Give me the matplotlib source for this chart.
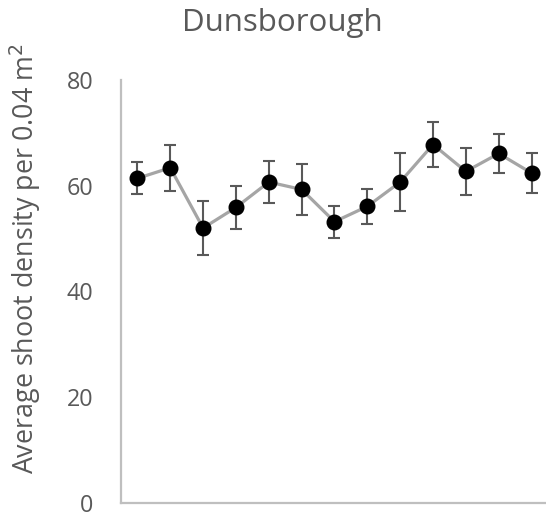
import matplotlib
matplotlib.use("Agg")
import matplotlib.pyplot as plt
import numpy as np

# Survey periods (unlabelled on the axis) and mean shoot density with standard error
periods = list(range(1, 14))
density = [61.4, 63.4, 52.0, 55.9, 60.7, 59.3, 53.2, 56.1, 60.7, 67.8, 62.7, 66.1, 62.4]
std_err = [3.0, 4.3, 5.1, 4.0, 4.0, 4.8, 3.0, 3.3, 5.5, 4.2, 4.5, 3.6, 3.8]
y_ticks = [0, 20, 40, 60, 80]

text_color = "#595959"
plt.rcParams["font.family"] = ["Open Sans", "DejaVu Sans"]

W, H, DPI = 546, 517, 100
fig = plt.figure(figsize=(W / DPI, H / DPI), dpi=DPI)

left, right = 121 / W, 546 / W
bottom, top = (H - 503) / H, (H - 80) / H
ax = fig.add_axes([left, bottom, right - left, top - bottom])

x = np.arange(len(periods))
ax.errorbar(x, density, yerr=std_err, fmt="none", ecolor="#595959",
            elinewidth=1.5, capsize=4.5, capthick=1.5, zorder=2)
ax.plot(x, density, color="#A5A5A5", linewidth=2.3, zorder=3)
ax.plot(x, density, linestyle="none", marker="o", markersize=10.5,
        markerfacecolor="black", markeredgecolor="black", zorder=4)

ax.set_xlim(-0.5, 12.44)
ax.set_ylim(0, 80)
ax.set_yticks(y_ticks)
ax.set_xticks([])
ax.tick_params(axis="y", length=0, pad=20, labelsize=16.8, labelcolor=text_color)

for side in ("top", "right"):
    ax.spines[side].set_visible(False)
for side in ("left", "bottom"):
    ax.spines[side].set_color("#BFBFBF")
    ax.spines[side].set_linewidth(1.6)

fig.text(282.5 / W, 1 - 22.5 / H, "Dunsborough", ha="center", va="center",
         fontsize=22.5, color=text_color)
fig.text(25 / W, 1 - 259 / H, "Average shoot density per 0.04 m$^2$",
         rotation=90, ha="center", va="center", fontsize=19.4, color=text_color)

fig.savefig("out.png", dpi=DPI)
